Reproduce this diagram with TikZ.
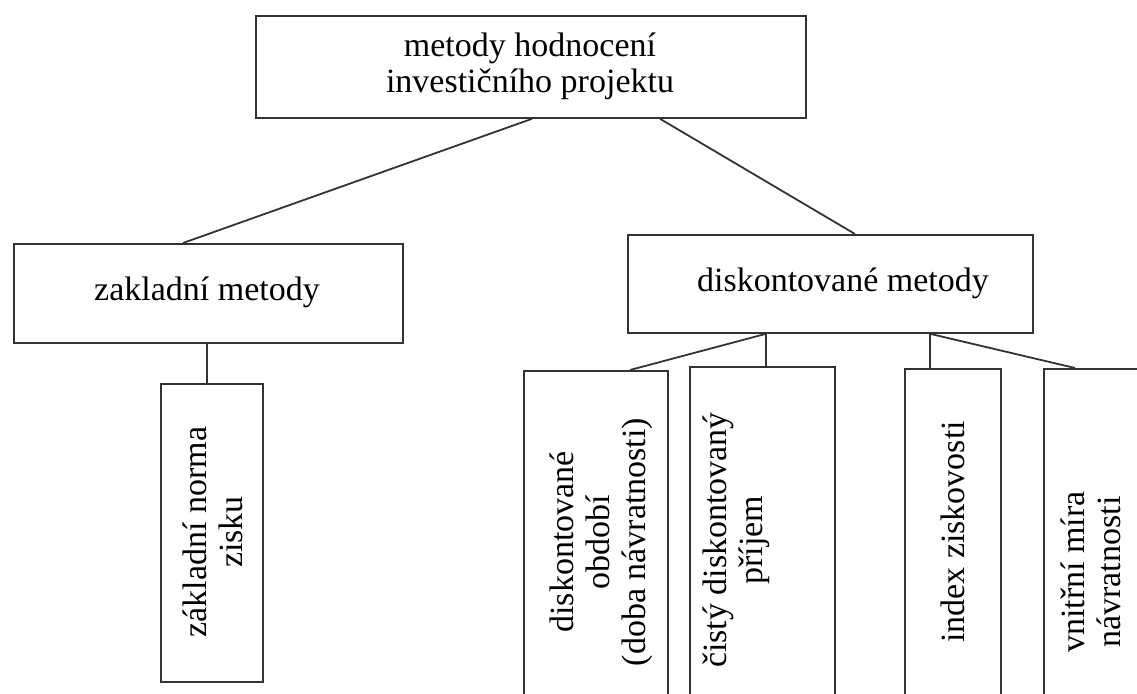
\documentclass[tikz,border=0pt]{standalone}
\usepackage{fontspec}
\setmainfont{Liberation Serif}
\usetikzlibrary{calc}
\begin{document}
\begin{tikzpicture}[x=1pt,y=-1pt,
  box/.style={draw=black!80, line width=1.8pt, inner sep=0pt, anchor=north west},
  lbl/.style={inner sep=0pt, align=center, font=\fontsize{34}{36}\selectfont},
  rlbl/.style={lbl, rotate=90},
  conn/.style={draw=black!80, line width=1.8pt}]
\useasboundingbox (0,0) rectangle (1137,693);
\clip (0,0) rectangle (1137,693);
% boxes
\node[box, minimum width=550pt, minimum height=102pt] (top) at (255,15) {};
\node[box, minimum width=389pt, minimum height=99pt] (zm) at (13,243) {};
\node[box, minimum width=405pt, minimum height=98pt] (dm) at (627,234) {};
\node[box, minimum width=102pt, minimum height=298pt] (zn) at (160,383) {};
\node[box, minimum width=144pt, minimum height=360pt] (b1) at (523,370) {};
\node[box, minimum width=145pt, minimum height=360pt] (b2) at (689,366) {};
\node[box, minimum width=96pt, minimum height=360pt] (b3) at (904,368) {};
\node[box, minimum width=110pt, minimum height=360pt] (b4) at (1043,368) {};
% texts
\node[lbl] (ttop) at (530,66) {metody hodnocení\\investičního projektu};
\node[lbl] (tzm) at (207,292) {zakladní metody};
\node[lbl] (tdm) at (843,283) {diskontované metody};
\node[rlbl] (tzn) at (213,532) {základní norma\\zisku};
\node[rlbl] (tb1) at (601,542) {diskontované\\období\\(doba návratnosti)};
\node[rlbl] (tb2) at (736,540) {čistý diskontovaný\\příjem};
\node[rlbl] (tb3) at (953,532) {index ziskovosti};
\node[rlbl] (tb4) at (1091,572) {vnitřní míra\\návratnosti};
% connectors
\draw[conn] ($(top.south west)+(277,0)$) -- ($(zm.north west)+(170,0)$);
\draw[conn] ($(top.south west)+(405,0)$) -- ($(dm.north west)+(228,0)$);
\draw[conn] ($(zm.south west)+(194,0)$) -- ($(zn.north west)+(47,0)$);
\draw[conn] ($(dm.south west)+(139,0)$) -- ($(b1.north west)+(107,0)$);
\draw[conn] ($(dm.south west)+(139,0)$) -- ($(b2.north west)+(77,0)$);
\draw[conn] ($(dm.south west)+(303,0)$) -- ($(b3.north west)+(26,0)$);
\draw[conn] ($(dm.south west)+(303,0)$) -- ($(b4.north west)+(32,0)$);
\end{tikzpicture}
\end{document}
